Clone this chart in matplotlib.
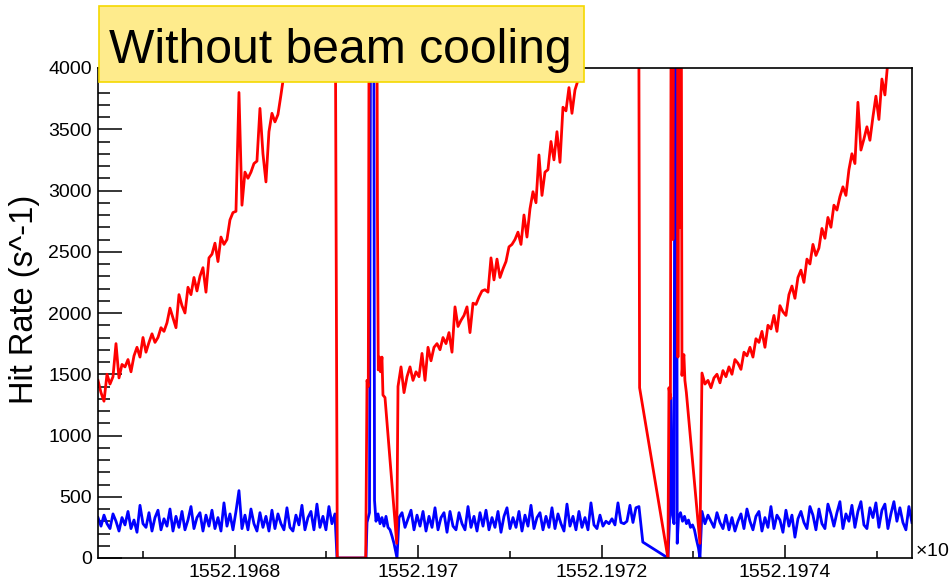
import numpy as np
import matplotlib.pyplot as plt
from matplotlib.patches import Rectangle
from matplotlib.ticker import FixedLocator

plt.rcParams['font.family'] = ['Liberation Sans', 'DejaVu Sans']

# time in seconds after T0, plotted in units of 1e6 s
T0 = 1552196650.0
STEP = 3.27

# --- red series (hit rate, high channel) ---
red_seg1_start = 1.0
red_seg1 = [1450, 1350, 1280, 1500, 1420, 1480, 1750, 1470, 1580, 1560,
            1620, 1520, 1650, 1720, 1640, 1800, 1680, 1760, 1830, 1760,
            1800, 1880, 1850, 1920, 2040, 1960, 1880, 2150, 2060, 2000,
            2210, 2150, 2290, 2180, 2300, 2370, 2170, 2450, 2480, 2570,
            2420, 2620, 2560, 2600, 2760, 2820, 2830, 3800, 2880, 3150,
            3100, 3150, 3220, 3240, 3670, 3300, 3070, 3480, 3630, 3560,
            3620, 3780, 3950]
red_gap1_t = [210.3, 259.4, 261.9, 292.9, 294.3, 295.7, 297.0, 304.6, 305.7,
              306.6, 307.9, 309.0, 310.6, 311.7, 313.9, 326.7]
red_gap1_v = [4600, 5200, 0, 0, 1450, 1400, 6000, 6000, 2780,
              1535, 1640, 1520, 1640, 1330, 1310, 120]
red_seg2_start = 328.1
red_seg2 = [1400, 1560, 1350, 1480, 1560, 1450, 1520, 1480, 1670, 1450,
            1720, 1610, 1720, 1750, 1700, 1800, 1750, 1840, 1680, 2050,
            1890, 1940, 1980, 2050, 1840, 2080, 2070, 2130, 2180, 2190,
            2170, 2450, 2270, 2440, 2290, 2360, 2420, 2540, 2560, 2600,
            2660, 2560, 2800, 2620, 2850, 2990, 2900, 3290, 2960, 3150,
            3170, 3400, 3250, 3480, 3230, 3680, 3650, 3840, 3630, 3820,
            3900, 4100]
red_gap2_t = [549.3, 590.4, 591.5, 622.4, 623.5, 625.1, 626.2, 627.8, 628.9,
              632.7, 633.3, 634.4, 635.5, 636.6, 637.7, 638.7, 639.8, 640.9,
              642.5, 657.3]
red_gap2_v = [4800, 5300, 1390, 0, 1390, 1300, 6000, 2600, 6000,
              6000, 1640, 6000, 2700, 6000, 1490, 1600, 1660, 1450,
              1350, 120]
red_seg3_start = 659.5
red_seg3 = [1510, 1420, 1450, 1390, 1470, 1500, 1430, 1530, 1480, 1560,
            1500, 1620, 1590, 1540, 1680, 1650, 1720, 1640, 1790, 1760,
            1850, 1720, 1900, 1870, 1980, 1850, 2060, 2010, 1980, 2150,
            2220, 2120, 2290, 2350, 2250, 2440, 2400, 2560, 2470, 2530,
            2690, 2610, 2780, 2700, 2880, 2840, 2950, 3030, 2960, 3170,
            3300, 3220, 3720, 3330, 3420, 3520, 3410, 3600, 3770, 3580,
            3910, 3780, 4060, 4150, 4300, 4400, 4500, 4600, 4700, 4800,
            4900]

# --- blue series (hit rate, low channel) ---
blue_segA_start = 1.0
blue_segA = [330, 260, 350, 280, 240, 360, 300, 220, 330, 270,
             380, 240, 310, 210, 430, 280, 250, 370, 220, 330,
             390, 230, 320, 260, 400, 220, 340, 250, 380, 230,
             310, 420, 240, 330, 370, 220, 350, 260, 390, 240,
             330, 220, 450, 260, 360, 230, 380, 550, 240, 350,
             230, 400, 280, 220, 370, 250, 340, 220, 390, 240,
             360, 280, 230, 410, 250, 220, 350, 270, 430, 230,
             330, 380, 230, 440, 250, 340, 230, 420, 280, 360]
blue_gap1_t = [261.6, 293.2, 294.3, 297.0, 298.6, 301.4, 302.5, 304.1, 306.3,
               308.5, 310.6, 312.8, 315.0, 317.2, 319.4, 321.5, 323.7, 327.0]
blue_gap1_v = [0, 0, 290, 370, 6000, 6000, 470, 300, 360,
               280, 330, 260, 340, 250, 230, 180, 120, 0]
blue_segB_start = 329.2
blue_segB = [330, 370, 250, 320, 390, 230, 350, 260, 380, 220,
             340, 250, 410, 230, 330, 370, 210, 380, 260, 230,
             370, 280, 230, 420, 250, 340, 220, 370, 260, 390,
             230, 330, 250, 380, 210, 340, 410, 240, 330, 250,
             380, 220, 350, 260, 430, 240, 330, 370, 230, 340,
             250, 410, 240, 360, 280, 220, 440, 260, 340, 230,
             380, 250, 330, 230, 450, 270, 240, 350, 260, 300,
             280, 320, 270, 450, 290, 280, 300, 430, 290, 410,
             420]
blue_gap2_t = [595.0, 622.4, 624.1, 625.7, 627.3, 629.0, 630.4, 631.7, 632.5,
               633.9, 636.1, 638.3, 640.5, 642.6, 644.8, 647.0, 649.2, 651.3,
               653.5, 655.7, 657.3]
blue_gap2_v = [130, 0, 300, 1310, 350, 280, 6000, 6000, 120,
               330, 370, 300, 340, 280, 310, 250, 270, 230,
               150, 80, 0]
blue_segD_start = 659.5
blue_segD = [380, 280, 350, 300, 250, 370, 290, 240, 350, 230,
             330, 220, 300, 360, 240, 400, 300, 230, 340, 380,
             220, 330, 250, 420, 240, 350, 310, 210, 390, 260,
             350, 170, 320, 380, 290, 240, 420, 350, 230, 400,
             280, 240, 440, 360, 260, 370, 460, 240, 360, 300,
             430, 250, 380, 460, 270, 240, 410, 330, 450, 250,
             390, 440, 240, 360, 460, 300, 410, 290, 230, 420,
             290]

x_major = [1552.1968, 1552.1970, 1552.1972, 1552.1974]
x_major_labels = ['1552.1968', '1552.197', '1552.1972', '1552.1974']
x_minor = [1552.1967, 1552.1969, 1552.1971, 1552.1973, 1552.1975]


def regular(start, vals):
    return start + STEP * np.arange(len(vals))


def build(parts):
    t = np.concatenate([p[0] for p in parts])
    v = np.concatenate([p[1] for p in parts])
    return (T0 + t) / 1e6, v


red_x, red_y = build([
    (regular(red_seg1_start, red_seg1), red_seg1),
    (np.array(red_gap1_t), red_gap1_v),
    (regular(red_seg2_start, red_seg2), red_seg2),
    (np.array(red_gap2_t), red_gap2_v),
    (regular(red_seg3_start, red_seg3), red_seg3),
])
blue_x, blue_y = build([
    (regular(blue_segA_start, blue_segA), blue_segA),
    (np.array(blue_gap1_t), blue_gap1_v),
    (regular(blue_segB_start, blue_segB), blue_segB),
    (np.array(blue_gap2_t), blue_gap2_v),
    (regular(blue_segD_start, blue_segD), blue_segD),
])

fig = plt.figure(figsize=(9.5, 5.82), dpi=100)
ax = fig.add_axes([98 / 950, 24 / 582, 814 / 950, 490 / 582])

ax.plot(blue_x, blue_y, color='#0000ff', lw=2.0)
ax.plot(red_x, red_y, color='#ff0000', lw=2.0)

ax.set_xlim((T0 + 1.0) / 1e6, (T0 + 888.5) / 1e6)
ax.set_ylim(0, 4000)

ax.xaxis.set_major_locator(FixedLocator(x_major))
ax.set_xticklabels(x_major_labels)
ax.xaxis.set_minor_locator(FixedLocator(x_minor))
ax.set_yticks(np.arange(0, 4001, 500))
ax.yaxis.set_minor_locator(FixedLocator(np.arange(0, 4001, 100)))

ax.tick_params(axis='y', which='major', direction='in', length=17, width=1.1,
               labelsize=14, pad=4.5)
ax.tick_params(axis='y', which='minor', direction='in', length=8.5, width=1.1)
ax.tick_params(axis='x', which='major', direction='in', length=9.5, width=1.1,
               labelsize=14, pad=4)
ax.tick_params(axis='x', which='minor', direction='in', length=5, width=1.1)
for s in ax.spines.values():
    s.set_linewidth(1.2)

fig.text(25 / 950, 1 - 299 / 582, 'Hit Rate (s^-1)', rotation=90,
         fontsize=23.5, ha='center', va='center')

# x10^6 multiplier, cut by the right edge as in the original
fig.text(915 / 950, 1 - 557 / 582, '×10$^{6}$', fontsize=14,
         ha='left', va='baseline')

# title box
fig.patches.append(Rectangle((99 / 950, 1 - 82 / 582), 485 / 950, 76 / 582,
                             transform=fig.transFigure, facecolor='#feeb8c',
                             edgecolor='#f5d800', lw=1.2, zorder=5))
fig.text(109 / 950, 1 - 63 / 582, 'Without beam cooling', fontsize=34.7,
         ha='left', va='baseline', zorder=6)

fig.savefig('out.png', dpi=100)
